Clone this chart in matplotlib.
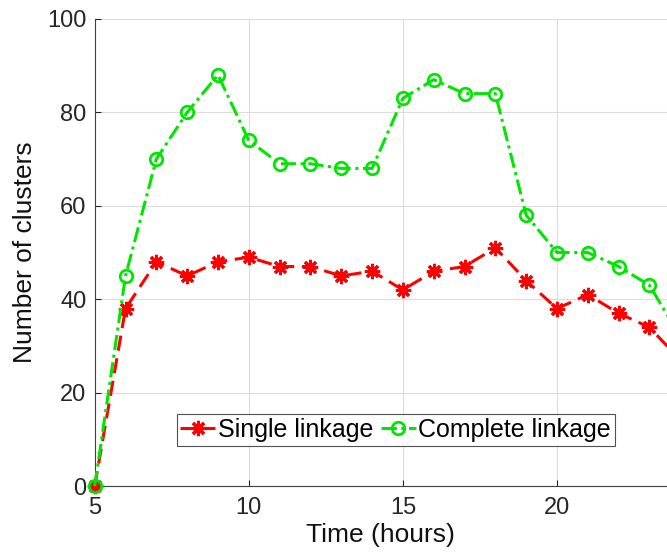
import matplotlib
matplotlib.use("Agg")
import matplotlib.pyplot as plt

hours = list(range(5, 25))
single = [0, 38, 48, 45, 48, 49, 47, 47, 45, 46, 42, 46, 47, 51, 44, 38, 41, 37, 34, 27]
complete = [0, 45, 70, 80, 88, 74, 69, 69, 68, 68, 83, 87, 84, 84, 58, 50, 50, 47, 43, 32]

plt.rcParams['font.family'] = ['Liberation Sans', 'DejaVu Sans']

fig = plt.figure(figsize=(6.67, 5.55), dpi=100)
ax = fig.add_axes([0.142, 0.124, 0.858, 0.842])

ax.plot(hours, single, color='#ff0000', linestyle=(0, (5, 2.5)), linewidth=2.2,
        marker=(8, 2, 0), markersize=11, markeredgewidth=2.2, label='Single linkage',
        clip_on=False, zorder=3)
ax.plot(hours, complete, color='#00e600', linestyle=(0, (5, 1.5, 1, 1.5)), linewidth=2.2,
        marker='o', markersize=9, markerfacecolor='none', markeredgewidth=2,
        label='Complete linkage', clip_on=False, zorder=3)

ax.set_xlim(5, 23.57)
ax.set_ylim(0, 100)
ax.set_xticks([5, 10, 15, 20])
ax.set_yticks([0, 20, 40, 60, 80, 100])
ax.grid(True, color='#dcdcdc', linewidth=0.8)
ax.set_axisbelow(True)
for s in ['top', 'right']:
    ax.spines[s].set_visible(False)
for s in ['left', 'bottom']:
    ax.spines[s].set_color('#404040')
ax.tick_params(direction='in', length=4, labelsize=17, colors='#262626',
               labelcolor='#262626')
ax.tick_params(axis='x', pad=8)
ax.tick_params(axis='y', pad=6)
ax.set_xlabel('Time (hours)', fontsize=19, color='#111111', labelpad=3)
ax.set_ylabel('Number of clusters', fontsize=19, color='#111111', labelpad=7)

leg = ax.legend(loc='center', bbox_to_anchor=(0.526, 0.12), ncol=2, fontsize=18,
                frameon=True, fancybox=False, edgecolor='#262626', handlelength=1.4,
                handletextpad=0.1, columnspacing=0.3, borderpad=0.15, borderaxespad=0)
leg.get_frame().set_linewidth(0.8)
leg.set_zorder(5)

fig.savefig('out.png', dpi=100)
